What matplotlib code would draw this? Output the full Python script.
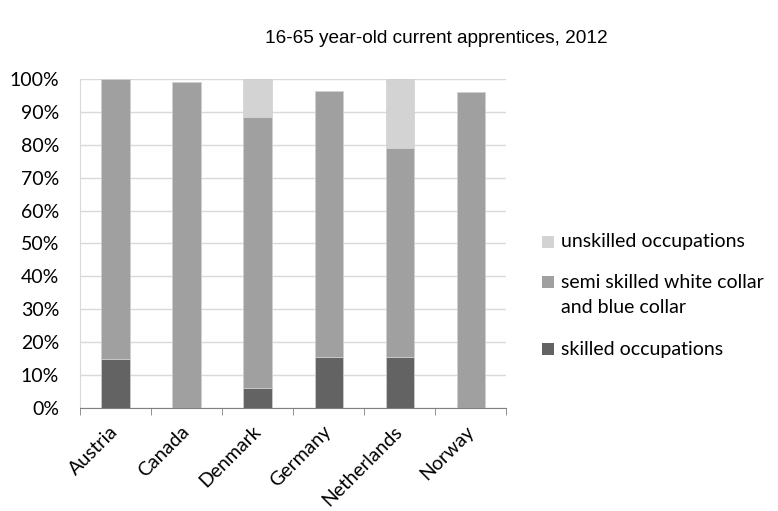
import matplotlib
matplotlib.use("Agg")
import matplotlib.pyplot as plt
from matplotlib.ticker import PercentFormatter
from matplotlib.patches import Rectangle
import numpy as np

countries = ["Austria", "Canada", "Denmark", "Germany", "Netherlands", "Norway"]
skilled = [15.0, 0.0, 6.1, 15.4, 15.4, 0.0]
semi_skilled = [85.0, 99.0, 82.5, 81.0, 63.5, 96.0]
unskilled = [0.0, 0.0, 11.4, 0.0, 21.1, 0.0]

labels = ["skilled occupations", "semi skilled white collar\nand blue collar", "unskilled occupations"]
colors = ["#636363", "#a0a0a0", "#d3d3d3"]

font = "Lato"
fs = 14
W, H = 778, 511
fig = plt.figure(figsize=(W / 100, H / 100), dpi=100)
ax = fig.add_axes([0.1028, 0.2016, 0.5482, 0.6438])

x = np.arange(len(countries))
s = np.array(skilled); m = np.array(semi_skilled); u = np.array(unskilled)
ax.bar(x, s, width=0.4, color=colors[0], edgecolor="#d0d0d0", linewidth=0.5, zorder=3)
ax.bar(x, m, bottom=s, width=0.4, color=colors[1], edgecolor="#d0d0d0", linewidth=0.5, zorder=3)
ax.bar(x, u, bottom=s + m, width=0.4, color=colors[2], edgecolor="#d0d0d0", linewidth=0.5, zorder=3)

ax.set_xlim(-0.5, len(countries) - 0.5)
ax.set_ylim(0, 100)
ax.set_yticks(np.arange(0, 101, 10))
ax.yaxis.set_major_formatter(PercentFormatter(decimals=0))
ax.grid(axis="y", color="#d9d9d9", linewidth=1, zorder=0)
ax.tick_params(axis="y", length=0, labelsize=fs, pad=15)
for t in ax.get_yticklabels():
    t.set_fontfamily(font)

ax.set_xticks(x)
ax.set_xticklabels(countries, rotation=45, ha="right", va="center", rotation_mode="anchor",
                   fontsize=fs, fontfamily=font)
ax.tick_params(axis="x", length=0, pad=15)
ax.set_xticks(np.arange(-0.5, len(countries), 1), minor=True)
ax.tick_params(axis="x", which="minor", length=5, color="#808080", direction="out")

for side in ["top", "right"]:
    ax.spines[side].set_visible(False)
ax.spines["left"].set_color("#d9d9d9")
ax.spines["bottom"].set_color("#808080")

fig.text(0.561, 0.924, "16-65 year-old current apprentices, 2012", ha="center", va="center",
         fontsize=13.7, fontfamily="Liberation Sans")

# legend (top to bottom: unskilled, semi skilled, skilled)
leg_items = [(labels[2], colors[2], 242, 242), (labels[1], colors[1], 282, 295), (labels[0], colors[0], 349, 349)]
for lab, col, hy, ty in leg_items:
    fig.patches.append(Rectangle((542 / W, 1 - (hy + 6) / H), 12 / W, 12 / H,
                                 transform=fig.transFigure, facecolor=col, edgecolor="none"))
    fig.text(561 / W, 1 - ty / H, lab, ha="left", va="center", fontsize=fs, fontfamily=font,
             linespacing=1.55)

fig.savefig("out.png", dpi=100)
